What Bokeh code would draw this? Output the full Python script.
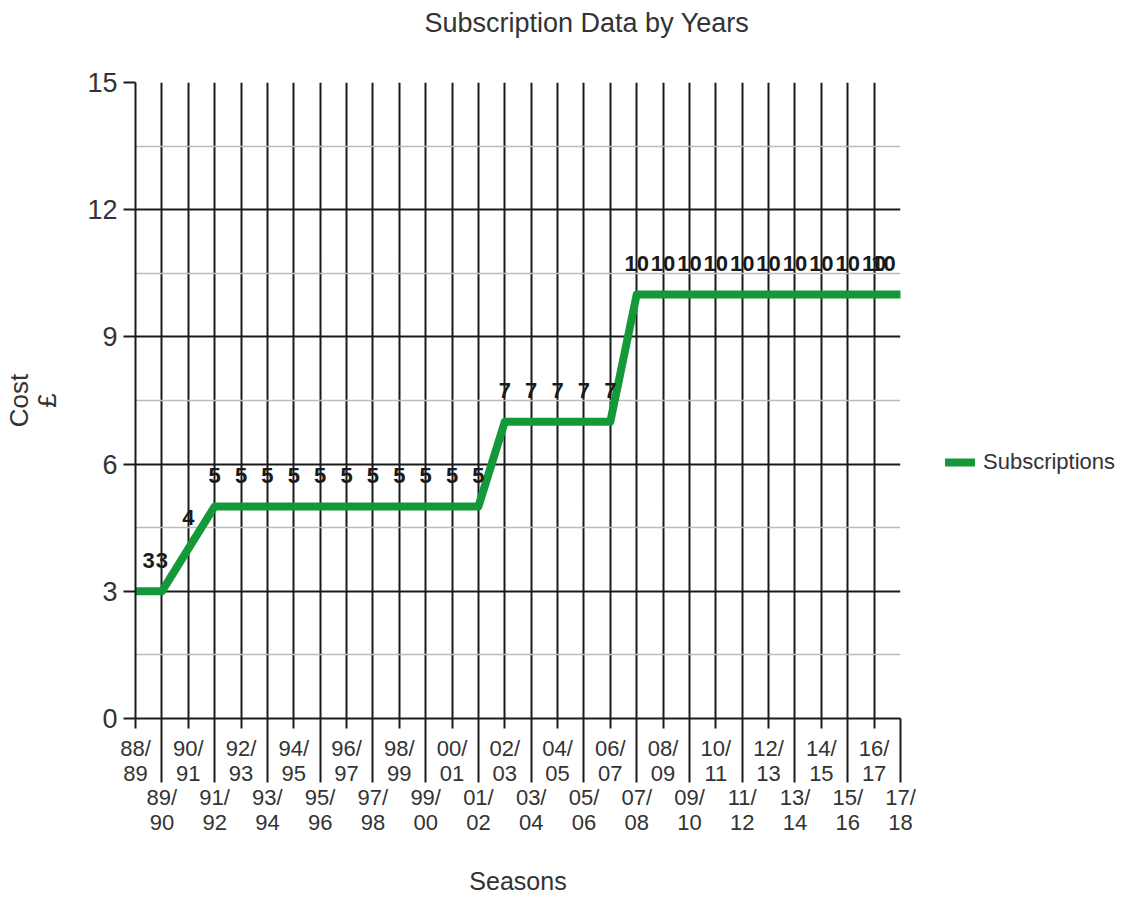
from bokeh.plotting import figure
from bokeh.models import Range1d, FixedTicker, LinearAxis, Legend, LegendItem, ColumnDataSource, Title
from bokeh.embed import file_html
from bokeh.resources import INLINE
from bokeh.core.properties import value

# ---- data ----
seasons = ["88/89", "89/90", "90/91", "91/92", "92/93", "93/94", "94/95", "95/96",
           "96/97", "97/98", "98/99", "99/00", "00/01", "01/02", "02/03", "03/04",
           "04/05", "05/06", "06/07", "07/08", "08/09", "09/10", "10/11", "11/12",
           "12/13", "13/14", "14/15", "15/16", "16/17", "17/18"]
subscriptions = [3, 3, 4, 5, 5, 5, 5, 5, 5, 5, 5, 5, 5, 5, 7, 7, 7, 7, 7,
                 10, 10, 10, 10, 10, 10, 10, 10, 10, 10, 10]
y_ticks = [0, 3, 6, 9, 12, 15]
y_minor = [1.5, 4.5, 7.5, 10.5, 13.5]

FONT = "Liberation Sans"
TXT = "#333333"
GRID = "#1a1a1a"
GREEN = "#14993a"

n = len(seasons)
idx = list(range(n))
labels = [s[:3] + "\n" + s[3:] for s in seasons]
even = [i for i in idx if i % 2 == 0]
odd = [i for i in idx if i % 2 == 1]

# keep end labels inside the plot area
xoff = [0] * n
xoff[0] = 13
xoff[-1] = -17

src = ColumnDataSource(dict(x=idx, y=subscriptions, t=[str(v) for v in subscriptions], xo=xoff))

p = figure(frame_width=765, frame_height=636, output_backend="svg", toolbar_location=None,
           x_range=Range1d(0, n - 1), y_range=Range1d(0, 15),
           x_axis_location=None, min_border_left=127, min_border_right=10,
           min_border_top=74, min_border_bottom=2)
p.outline_line_color = None
p.title = None

# spacer then main title (later additions go further out)
p.add_layout(Title(text=" ", text_font_size="25px"), "above")
p.add_layout(Title(text="Subscription Data by Years", align="left", offset=289,
                   text_font=FONT, text_font_size="27px", text_font_style="normal",
                   text_color=TXT), "above")

# y axis
ya = p.yaxis[0]
ya.ticker = FixedTicker(ticks=y_ticks, minor_ticks=y_minor)
ya.axis_label = "Cost\n£"
ya.axis_label_text_font = FONT
ya.axis_label_text_font_size = "26px"
ya.axis_label_text_font_style = "normal"
ya.axis_label_text_color = TXT
ya.axis_label_text_line_height = 0.95
ya.axis_label_text_align = "right"
ya.axis_label_standoff = 22
ya.major_label_text_font = FONT
ya.major_label_text_font_size = "27px"
ya.major_label_text_color = TXT
ya.major_label_standoff = 6
ya.major_tick_in = 0
ya.major_tick_out = 12
ya.major_tick_line_color = GRID
ya.major_tick_line_width = 2
ya.minor_tick_line_color = None
ya.axis_line_color = GRID
ya.axis_line_width = 2

# x axis (top row of labels, even seasons); long minor ticks separate them
xa = LinearAxis(ticker=FixedTicker(ticks=even, minor_ticks=odd),
                major_label_overrides={i: labels[i] for i in idx})
xa.major_label_text_font = FONT
xa.major_label_text_font_size = "22px"
xa.major_label_text_color = TXT
xa.major_label_text_line_height = 1.0
xa.major_label_standoff = -47
xa.major_tick_in = 0
xa.major_tick_out = 10
xa.minor_tick_in = 0
xa.minor_tick_out = 64
xa.major_tick_line_color = GRID
xa.minor_tick_line_color = GRID
xa.major_tick_line_width = 2
xa.minor_tick_line_width = 2
xa.axis_line_color = GRID
xa.axis_line_width = 2
p.add_layout(xa, "below")

# second row of labels, odd seasons
xb = LinearAxis(ticker=FixedTicker(ticks=odd, minor_ticks=[]),
                major_label_overrides={i: labels[i] for i in idx})
xb.major_label_text_font = FONT
xb.major_label_text_font_size = "22px"
xb.major_label_text_color = TXT
xb.major_label_text_line_height = 1.0
xb.major_label_standoff = -4
xb.major_tick_in = 0
xb.major_tick_out = 0
xb.major_tick_line_color = None
xb.minor_tick_line_color = None
xb.axis_line_color = None
xb.axis_label = "Seasons"
xb.axis_label_text_font = FONT
xb.axis_label_text_font_size = "25px"
xb.axis_label_text_font_style = "normal"
xb.axis_label_text_color = TXT
xb.axis_label_text_line_height = 1.0
xb.axis_label_standoff = 29
p.add_layout(xb, "below")

# grids
p.xgrid.ticker = FixedTicker(ticks=idx)
p.xgrid.grid_line_color = GRID
p.xgrid.grid_line_width = 2
p.ygrid.ticker = FixedTicker(ticks=y_ticks, minor_ticks=y_minor)
p.ygrid.grid_line_color = GRID
p.ygrid.grid_line_width = 2
p.ygrid.minor_grid_line_color = "#bbbbbb"
p.ygrid.minor_grid_line_width = 1.5

line = p.line("x", "y", source=src, line_width=8, line_color=GREEN,
              line_join="round", line_cap="round")

p.text("x", "y", text="t", source=src, text_font=value(FONT), text_font_size="22px",
       text_font_style="bold", text_color="#1a1a1a", text_align="center",
       text_baseline="alphabetic", y_offset=-31, x_offset="xo")

legend = Legend(items=[LegendItem(label="Subscriptions", renderers=[line])],
                location=(45, 243), border_line_color=None, background_fill_alpha=0,
                padding=5, glyph_width=30, label_standoff=8,
                label_text_font=FONT, label_text_font_size="22px", label_text_color=TXT)
p.add_layout(legend, "right")

open("out.html", "w").write(file_html(p, INLINE))
